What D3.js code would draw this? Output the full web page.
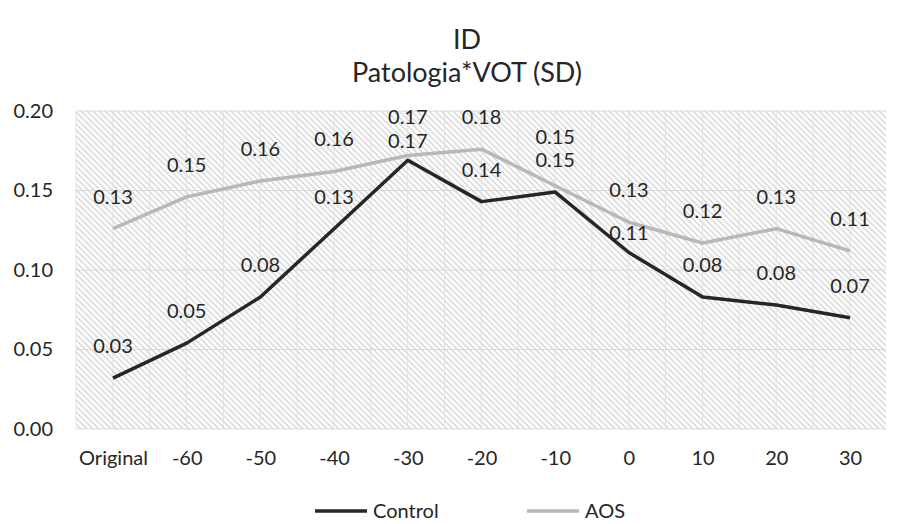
<!DOCTYPE html>
<html>
<head>
<meta charset="utf-8">
<script src="https://cdn.jsdelivr.net/npm/d3@7"></script>
<style>
  html, body { margin: 0; padding: 0; background: #fff; }
  svg { display: block; font-family: Lato, "Open Sans", sans-serif; }
</style>
</head>
<body>
<svg id="chart" width="899" height="524"></svg>
<script>
// Categories (VOT steps) and the SD per group
const categories = ["Original", "-60", "-50", "-40", "-30", "-20", "-10", "0", "10", "20", "30"];
const controlValues = [0.032, 0.054, 0.083, 0.126, 0.169, 0.143, 0.149, 0.111, 0.083, 0.078, 0.070];
const aosValues = [0.126, 0.146, 0.156, 0.162, 0.172, 0.176, 0.153, 0.130, 0.117, 0.126, 0.112];
const yTicks = [0, 0.05, 0.10, 0.15, 0.20];
const seriesNames = ["Control", "AOS"];

const series = [
  { name: seriesNames[0], values: controlValues, color: "#262626" },
  { name: seriesNames[1], values: aosValues, color: "#b8b8b8" }
];

const svg = d3.select("#chart");
const plot = { left: 76, right: 886, top: 111, bottom: 429 };
const textColor = "#262626";

const x = d3.scalePoint().domain(categories).range([113, 850]);
const y = d3.scaleLinear().domain([0, 0.2]).range([plot.bottom, plot.top]);

// Hatched plot background
const defs = svg.append("defs");
const pat = defs.append("pattern")
  .attr("id", "hatch")
  .attr("patternUnits", "userSpaceOnUse")
  .attr("width", 6).attr("height", 6);
pat.append("rect").attr("width", 6).attr("height", 6).attr("fill", "#fff");
pat.append("path")
  .attr("d", "M-1,-1 L7,7 M-4,2 L2,8 M4,-2 L8,2")
  .attr("stroke", "#dcdcdc").attr("stroke-width", 1.6);

svg.append("rect")
  .attr("x", plot.left).attr("y", plot.top)
  .attr("width", plot.right - plot.left).attr("height", plot.bottom - plot.top)
  .attr("fill", "url(#hatch)");

// Vertical gridlines at every category and half-step between them
const step = x.step();
const vLines = d3.range(plot.left, plot.right, step / 2);
svg.append("g").selectAll("line").data(vLines).join("line")
  .attr("x1", d => d).attr("x2", d => d)
  .attr("y1", plot.top).attr("y2", plot.bottom)
  .attr("stroke", "#e2e2e2").attr("stroke-width", 1);

// Horizontal gridlines
svg.append("g").selectAll("line").data(yTicks).join("line")
  .attr("x1", plot.left).attr("x2", plot.right)
  .attr("y1", d => y(d)).attr("y2", d => y(d))
  .attr("stroke", "#d9d9d9").attr("stroke-width", 1);

// Y axis
const yAxis = svg.append("g")
  .attr("transform", `translate(${plot.left},0)`)
  .call(d3.axisLeft(y).tickValues(yTicks).tickFormat(d3.format(".2f")).tickSize(0).tickPadding(23));
yAxis.select(".domain").remove();
yAxis.selectAll("text")
  .attr("fill", textColor).style("font-size", "20px").style("font-family", "Lato, sans-serif");

// X axis
const xAxis = svg.append("g")
  .attr("transform", `translate(0,${plot.bottom})`)
  .call(d3.axisBottom(x).tickSize(0).tickPadding(22));
xAxis.select(".domain").remove();
xAxis.selectAll("text")
  .attr("fill", textColor).style("font-size", "20px").style("font-family", "Lato, sans-serif");

// Lines
const line = d3.line().x((d, i) => x(categories[i])).y(d => y(d));
svg.append("g").selectAll("path").data(series).join("path")
  .attr("d", s => line(s.values))
  .attr("fill", "none")
  .attr("stroke", s => s.color)
  .attr("stroke-width", 3.5)
  .attr("stroke-linejoin", "round");

// Data labels above points, nudged apart where two labels collide
// and moved off the other series' line when it runs through them
const labelOffset = 25, minGap = 23.5, topLimit = plot.top + 13;
const labels = [];
categories.forEach((c, i) => {
  const items = series.map((s, si) => ({ v: s.values[i], si, cat: c, py: y(s.values[i]), ly: y(s.values[i]) - labelOffset }));
  items.forEach(it => {
    series.forEach((o, oi) => {
      if (oi === it.si) return;
      const oy = y(o.values[i]);
      if (oy < it.py && oy > it.ly - 15 && oy < it.ly + 4) it.ly = oy + 18;
    });
  });
  items.sort((a, b) => a.ly - b.ly);
  const [upper, lower] = items;
  if (lower.ly - upper.ly < minGap) {
    upper.ly = lower.ly - minGap;
  }
  if (upper.ly < topLimit) {
    upper.ly = topLimit;
    lower.ly = Math.max(lower.ly, upper.ly + minGap);
  }
  labels.push(...items);
});
svg.append("g").selectAll("text").data(labels).join("text")
  .attr("x", d => x(d.cat))
  .attr("y", d => d.ly)
  .attr("text-anchor", "middle")
  .attr("fill", textColor)
  .style("font-size", "20px")
  .text(d => d.v.toFixed(2));

// Title
const title = svg.append("g").attr("fill", textColor).attr("text-anchor", "middle");
title.append("text").attr("x", 467).attr("y", 49).style("font-size", "27px").text("ID");
title.append("text").attr("x", 467).attr("y", 82).style("font-size", "27px").text("Patologia*VOT (SD)");

// Legend
const legendItems = [
  { name: series[0].name, color: series[0].color, x: 315 },
  { name: series[1].name, color: series[1].color, x: 527 }
];
const lg = svg.append("g").selectAll("g").data(legendItems).join("g")
  .attr("transform", d => `translate(${d.x},511)`);
lg.append("line").attr("x1", 0).attr("x2", 52).attr("y1", 0).attr("y2", 0)
  .attr("stroke", d => d.color).attr("stroke-width", 3.5);
lg.append("text").attr("x", 58).attr("y", 7).attr("fill", textColor)
  .style("font-size", "20px").text(d => d.name);
</script>
</body>
</html>
